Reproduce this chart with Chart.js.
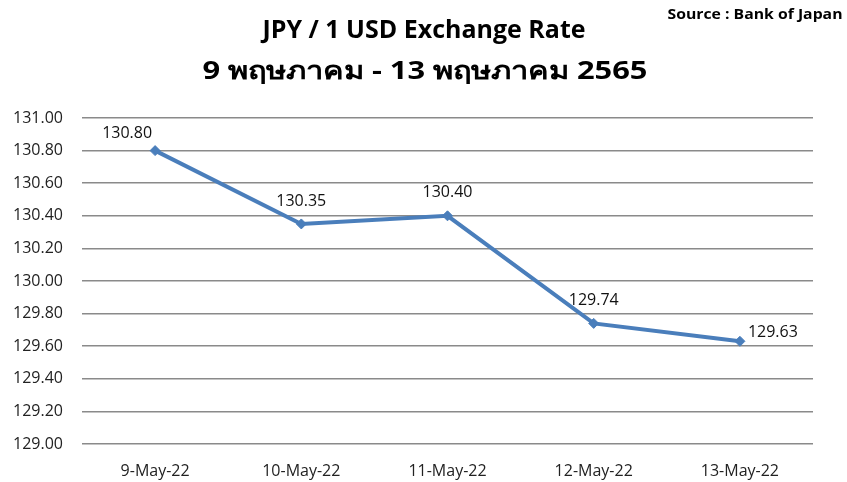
<!DOCTYPE html>
<html>
<head>
<meta charset="utf-8">
<script src="https://cdn.jsdelivr.net/npm/chart.js@4"></script>
<style>
  html, body { margin: 0; padding: 0; background: #fff; }
  #wrap { position: relative; width: 847px; height: 482px; }
</style>
</head>
<body>
<div id="wrap"><canvas id="rateChart" width="847" height="482"></canvas></div>
<script>
// data
const dates = ['9-May-22', '10-May-22', '11-May-22', '12-May-22', '13-May-22'];
const rates = [130.80, 130.35, 130.40, 129.74, 129.63];
const titleLines = ['JPY / 1 USD Exchange Rate', '9 พฤษภาคม - 13 พฤษภาคม 2565'];
const sourceText = 'Source : Bank of Japan';
// where each value label sits relative to its point
const labelSide = ['left', 'top', 'top', 'top', 'right'];

const FONT = "'Open Sans', 'Noto Sans', 'Liberation Sans', sans-serif";

// draws text centred on cx, squeezed/stretched to a given width
function fitText(ctx, txt, cx, cy, width) {
    const w = ctx.measureText(txt).width;
    ctx.save();
    ctx.translate(cx, cy);
    ctx.scale(width / w, 1);
    ctx.textAlign = 'center';
    ctx.fillText(txt, 0, 0);
    ctx.restore();
}

const headerPlugin = {
    id: 'header',
    afterDraw(chart) {
        const ctx = chart.ctx;
        ctx.save();
        ctx.fillStyle = '#000';
        ctx.textBaseline = 'middle';
        ctx.font = `bold 25px ${FONT}`;
        fitText(ctx, titleLines[0], 424, 31, 323);
        fitText(ctx, titleLines[1], 425, 72, 445);
        ctx.font = `bold 15px ${FONT}`;
        fitText(ctx, sourceText, 755, 15, 175);
        ctx.restore();
    }
};

const valueLabels = {
    id: 'valueLabels',
    afterDatasetsDraw(chart) {
        const ctx = chart.ctx;
        const meta = chart.getDatasetMeta(0);
        ctx.save();
        ctx.fillStyle = '#111';
        ctx.font = `16px ${FONT}`;
        ctx.textBaseline = 'middle';
        meta.data.forEach((pt, i) => {
            const txt = rates[i].toFixed(2);
            const side = labelSide[i];
            if (side === 'left') {
                ctx.textAlign = 'center';
                ctx.fillText(txt, pt.x - 28, pt.y - 17);
            } else if (side === 'right') {
                ctx.textAlign = 'left';
                ctx.fillText(txt, pt.x + 8, pt.y - 9);
            } else {
                ctx.textAlign = 'center';
                ctx.fillText(txt, pt.x, pt.y - 23);
            }
        });
        ctx.restore();
    }
};

new Chart(document.getElementById('rateChart'), {
    type: 'line',
    data: {
        labels: dates,
        datasets: [{
            data: rates,
            borderColor: '#4A7EBB',
            backgroundColor: '#4A7EBB',
            borderWidth: 4,
            pointStyle: 'rectRot',
            pointRadius: 5,
            pointBorderWidth: 1,
            tension: 0
        }]
    },
    options: {
        responsive: false,
        animation: false,
        layout: { padding: { top: 118, left: 0, right: 34, bottom: 0 } },
        plugins: {
            legend: { display: false },
            title: { display: false },
            tooltip: { enabled: false }
        },
        scales: {
            x: {
                offset: true,
                grid: { display: false },
                border: { display: false },
                ticks: { color: '#222', font: { family: FONT, size: 16 }, padding: 10, maxRotation: 0 },
                afterFit: (scale) => { scale.height = 38; }
            },
            y: {
                min: 129,
                max: 131,
                ticks: {
                    stepSize: 0.2,
                    color: '#222',
                    font: { family: FONT, size: 16 },
                    padding: 19,
                    callback: (v) => Number(v).toFixed(2)
                },
                grid: { color: '#8a8a8a', lineWidth: 1.5, drawTicks: false },
                border: { display: false },
                afterFit: (scale) => { scale.width = 82; }
            }
        }
    },
    plugins: [headerPlugin, valueLabels]
});
</script>
</body>
</html>
